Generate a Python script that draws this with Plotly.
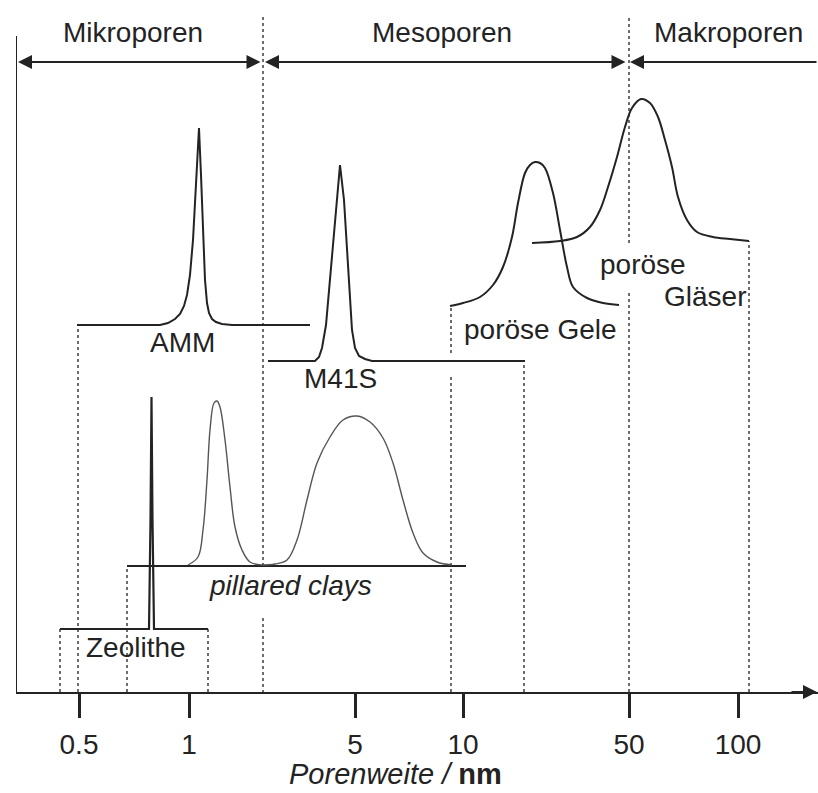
import plotly.graph_objects as go

# Schematic pore-size chart: x is a schematic position along the (non-uniform)
# pore-width axis, y is the height above the axis line.

tick_labels = ["0.5", "1", "5", "10", "50", "100"]
tick_pos = [79, 189, 355, 463, 629, 738]

# distribution curves (position, height)
zeo_x = [60, 149, 150.5, 151.5, 152.5, 154, 208]
zeo_y = [63, 63, 172, 295, 172, 63, 63]

amm_x = [77, 160, 168, 175, 180, 184, 187, 190, 193, 196, 199, 201, 203, 205, 207, 209, 212, 216, 222, 232, 310]
amm_y = [367, 367, 369, 373, 378, 386, 397, 417, 452, 507, 564, 517, 457, 412, 389, 379, 373, 370, 368, 367, 367]

m41s_x = [268, 315, 319, 322, 326, 330, 335, 340, 344, 347, 350, 352, 355, 359, 365, 372, 525]
m41s_y = [331, 331, 335, 344, 367, 412, 472, 527, 492, 447, 397, 362, 344, 336, 333, 331, 331]

clay_base_x = [127, 466]
clay_base_y = [126, 126]
clay1_x = [188, 198, 203, 207, 210, 214, 217, 220, 225, 230, 235, 242, 250, 262]
clay1_y = [127, 135, 162, 212, 262, 289, 291, 285, 252, 205, 165, 142, 130, 127]
clay2_x = [262, 275, 287, 297, 307, 317, 330, 343, 357, 370, 383, 393, 403, 413, 423, 437, 452]
clay2_y = [127, 128, 132, 152, 192, 229, 255, 272, 276, 270, 254, 229, 192, 159, 139, 130, 127]

gel_x = [450, 463, 480, 493, 503, 512, 518, 525, 530, 535, 540, 545, 553, 560, 567, 573, 587, 603, 619]
gel_y = [386, 389, 395, 407, 425, 455, 489, 519, 527, 530, 529, 524, 499, 462, 425, 405, 394, 389, 387]

glas_x = [532, 560, 577, 590, 600, 608, 617, 625, 632, 641, 650, 658, 665, 672, 678, 687, 697, 713, 730, 749]
glas_y = [449, 451, 455, 465, 482, 505, 535, 565, 584, 593, 589, 575, 552, 525, 495, 472, 460, 455, 453, 451]

region_names = ["Mikroporen", "Mesoporen", "Makroporen"]

FONT = "Arial, Liberation Sans, sans-serif"
INK = "#232323"

fig = go.Figure()


def curve(x, y, color=INK, width=2.0, shape="linear"):
    fig.add_trace(go.Scatter(x=x, y=y, mode="lines",
                             line=dict(color=color, width=width, shape=shape),
                             hoverinfo="skip", showlegend=False))


# dotted boundary / range lines: (x, y_from, y_to)
guides = [
    (60, 0, 63), (78, 0, 367), (127, -6, 126), (208, 0, 63),
    (263, -7, 74), (263, 126, 676),
    (451, 0, 317), (451, 339, 386), (524, 0, 331),
    (629, 0, 402), (629, 449, 676), (749, 0, 451),
]
for gx, g0, g1 in guides:
    fig.add_shape(type="line", x0=gx, x1=gx, y0=g0, y1=g1, xref="x", yref="y",
                  line=dict(color="#3c3c3c", width=1.5, dash="dot"), layer="below")

# y axis line
fig.add_shape(type="line", x0=16, x1=16, y0=0, y1=656, xref="x", yref="y",
              line=dict(color=INK, width=2))

curve(zeo_x, zeo_y, width=2.2)
curve(amm_x, amm_y, width=2.0)
curve(m41s_x, m41s_y, width=2.0)
curve(clay_base_x, clay_base_y, width=2.0)
curve(clay1_x, clay1_y, color="#555555", width=1.4, shape="spline")
curve(clay2_x, clay2_y, color="#555555", width=1.4, shape="spline")
curve(gel_x, gel_y, width=2.0, shape="spline")
curve(glas_x, glas_y, width=2.0, shape="spline")

# region arrows
arrow_y = 630
arrows = [(18, 262, "end+start"), (265, 627, "end+start"), (630, 818, "end")]
for x_head, x_tail, side in arrows:
    fig.add_annotation(x=x_head, y=arrow_y, ax=x_tail, ay=arrow_y, xref="x", yref="y",
                       axref="x", ayref="y", text="", showarrow=True,
                       arrowhead=2, arrowsize=1.4, arrowwidth=2, arrowcolor=INK,
                       arrowside=side, startarrowhead=2, startarrowsize=1.4)
# x axis arrow head
fig.add_annotation(x=817, y=0, ax=790, ay=0, xref="x", yref="y", axref="x", ayref="y",
                   text="", showarrow=True, arrowhead=2, arrowsize=1.4,
                   arrowwidth=2, arrowcolor=INK)


def label(text, x, y, size=28, bg=None):
    fig.add_annotation(x=x, y=y, xref="x", yref="y", text=text, showarrow=False,
                       font=dict(family=FONT, size=size, color=INK),
                       bgcolor=bg, borderpad=0)


label(region_names[0], 133, 660)
label(region_names[1], 442, 660)
label(region_names[2], 728, 660)
label("AMM", 182, 350)
label("M41S", 340, 314)
label("poröse Gele", 540, 363)
label("poröse", 643, 428)
label("Gläser", 705, 396)
label("<i>pillared clays</i>", 290, 107)
label("Zeolithe", 136, 45)

# axis title below the tick labels
fig.add_annotation(x=395, y=-0.1435, xref="x", yref="paper", yanchor="bottom",
                   text="<i>Porenweite /</i> <b>nm</b>", showarrow=False,
                   font=dict(family=FONT, size=29, color=INK), borderpad=0)

fig.update_layout(
    width=818, height=793,
    margin=dict(l=16, r=0, t=0, b=101),
    paper_bgcolor="white", plot_bgcolor="white",
    xaxis=dict(range=[16, 818], showgrid=False, zeroline=False,
               showline=True, linecolor=INK, linewidth=2,
               tickmode="array", tickvals=tick_pos, ticktext=tick_labels,
               ticks="outside", ticklen=24, tickwidth=3, tickcolor=INK,
               tickfont=dict(family=FONT, size=28, color=INK),
               ticklabelstandoff=2),
    yaxis=dict(range=[0, 692], showgrid=False, zeroline=False,
               showline=False, showticklabels=False, ticks=""),
)

fig.write_html("out.html")
